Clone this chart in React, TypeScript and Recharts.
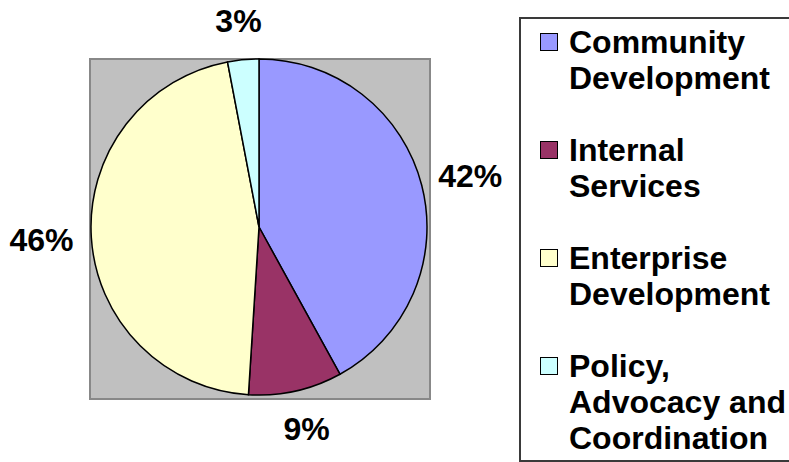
import React from "react";
import { PieChart, Pie, Cell, Legend } from "recharts";

const categories = [
  "Community Development",
  "Internal Services",
  "Enterprise Development",
  "Policy, Advocacy and Coordination",
];
const shares = [42, 9, 46, 3];
const colors = ["#9999FF", "#993366", "#FFFFCC", "#CCFFFF"];

const data = categories.map((name, i) => ({ name, value: shares[i] }));

const FONT = '"Liberation Sans", Arial, Helvetica, sans-serif';
const RAD = Math.PI / 180;

const renderLabel = (props: any) => {
  const { cx, cy, midAngle, value } = props;
  const rx = 218;
  const ry = 207;
  const x = cx + rx * Math.cos(-midAngle * RAD);
  const y = cy + ry * Math.sin(-midAngle * RAD);
  return (
    <text
      x={x}
      y={y}
      textAnchor="middle"
      dominantBaseline="central"
      fontFamily={FONT}
      fontWeight="bold"
      fontSize={32}
      fill="#000"
    >
      {`${value}%`}
    </text>
  );
};

const renderLegend = () => {
  const items = categories.map((n, i) => ({ name: n, color: colors[i] }));
  return (
    <div
      style={{
        boxSizing: "border-box",
        width: 290,
        height: 445,
        border: "2px solid #3a3a3a",
        background: "#fff",
        paddingTop: 5,
        paddingLeft: 19,
        fontFamily: FONT,
        fontWeight: "bold",
        fontSize: 32,
        lineHeight: "36px",
        color: "#000",
      }}
    >
      {items.map((it, i) => (
        <div key={i} style={{ display: "flex", alignItems: "flex-start", marginBottom: 36 }}>
          <div
            style={{
              boxSizing: "border-box",
              width: 18,
              height: 18,
              marginTop: 9,
              marginRight: 11,
              flex: "0 0 auto",
              background: it.color,
              border: "1.5px solid #000",
            }}
          />
          <div style={{ width: 230 }}>{it.name}</div>
        </div>
      ))}
    </div>
  );
};

export default function App() {
  return (
    <div
      style={{
        position: "absolute",
        left: 0,
        top: 0,
        width: 789,
        height: 462,
        overflow: "hidden",
        background: "#fff",
      }}
    >
      <div
        style={{
          position: "absolute",
          left: 89,
          top: 58,
          width: 342,
          height: 342,
          boxSizing: "border-box",
          background: "#C0C0C0",
          border: "2px solid #888",
        }}
      />
      <div style={{ position: "absolute", left: 0, top: 0 }}>
        <PieChart width={789} height={462} margin={{ top: 0, right: 0, bottom: 0, left: 0 }}>
          <Pie
            data={data}
            dataKey="value"
            nameKey="name"
            cx={259}
            cy={227}
            outerRadius={168}
            startAngle={90}
            endAngle={-270}
            stroke="#000"
            strokeWidth={1.5}
            label={renderLabel}
            labelLine={false}
            isAnimationActive={false}
          >
            {data.map((d, i) => (
              <Cell key={d.name} fill={colors[i]} />
            ))}
          </Pie>
          <Legend
            layout="vertical"
            align="right"
            verticalAlign="top"
            content={renderLegend}
            wrapperStyle={{ left: 519, top: 17, width: 290, right: "auto" }}
          />
        </PieChart>
      </div>
    </div>
  );
}
